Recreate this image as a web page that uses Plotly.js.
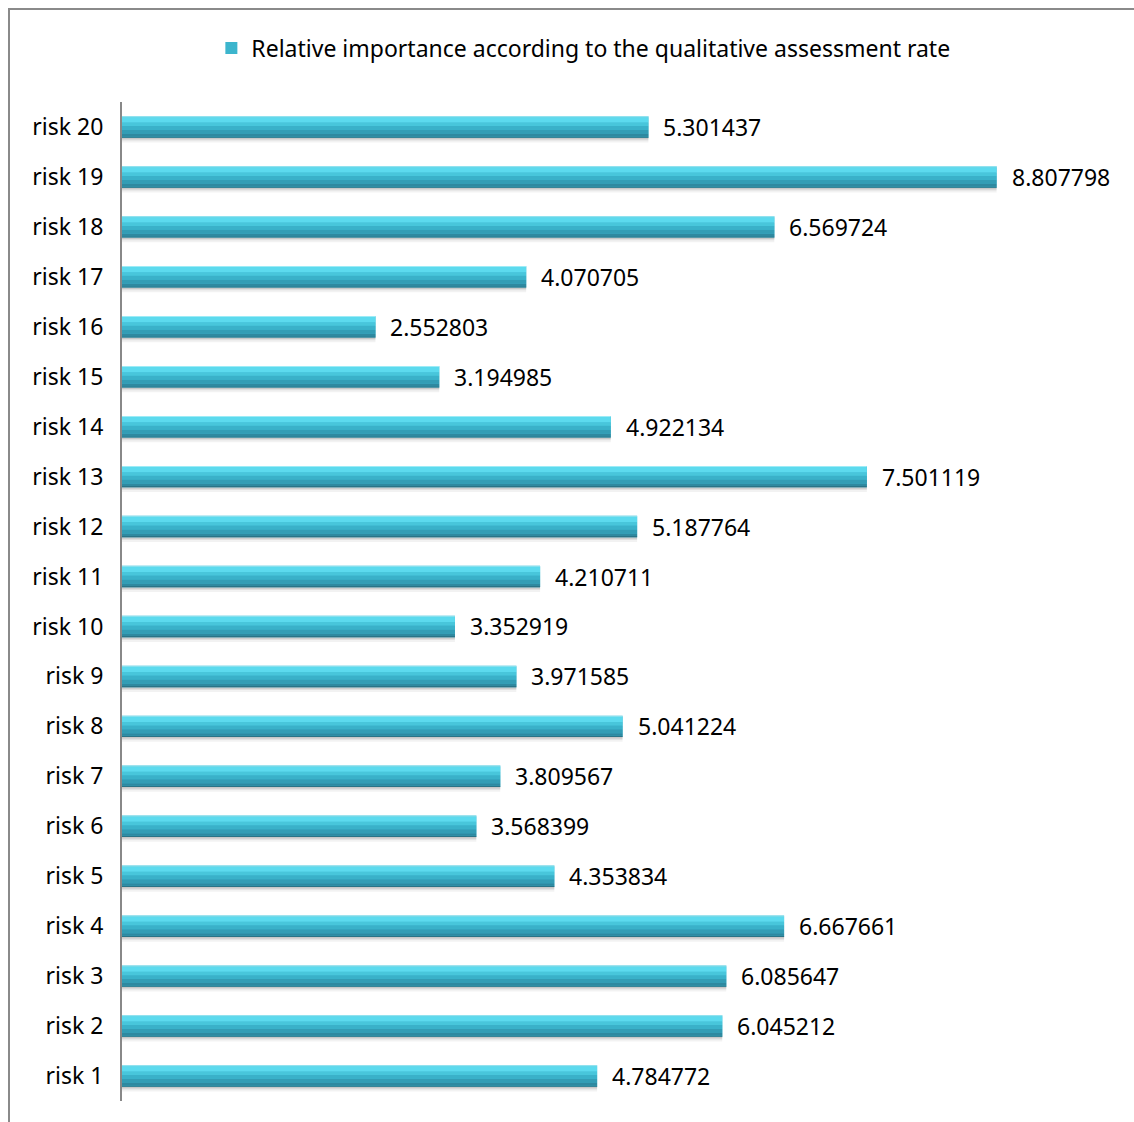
<!DOCTYPE html>
<html>
<head>
<meta charset="utf-8">
<script src="https://cdn.plot.ly/plotly-3.0.1.min.js"></script>
<style>
  html, body { margin: 0; padding: 0; background: #fff; overflow: hidden; }
  #chart { position: absolute; left: 0; top: 0; width: 1134px; height: 1122px; }
  #frame { position: absolute; left: 8px; top: 8px; width: 1160px; height: 1160px;
           border: 2px solid #8a8a8a; pointer-events: none; box-sizing: border-box; }
</style>
</head>
<body>
<div id="chart"></div>
<div id="frame"></div>
<script>
const categories = ["risk 1","risk 2","risk 3","risk 4","risk 5","risk 6","risk 7","risk 8","risk 9","risk 10",
  "risk 11","risk 12","risk 13","risk 14","risk 15","risk 16","risk 17","risk 18","risk 19","risk 20"];
const values = [4.784772, 6.045212, 6.085647, 6.667661, 4.353834, 3.568399, 3.809567, 5.041224, 3.971585, 3.352919,
  4.210711, 5.187764, 7.501119, 4.922134, 3.194985, 2.552803, 4.070705, 6.569724, 8.807798, 5.301437];
const seriesName = "Relative importance according to the qualitative assessment rate";

const FONT = "Noto Sans, Open Sans, sans-serif";

function layer(color, y0, y1, show) {
  return {
    type: "bar", orientation: "h", x: values, y: categories,
    offset: y0, width: y1 - y0,
    marker: { color: color, line: { width: 0 } },
    hoverinfo: "skip", showlegend: !!show, name: seriesName
  };
}

const traces = [
  layer("rgba(0,0,0,0.05)", -0.31, -0.2),
  layer("rgba(0,0,0,0.08)", -0.27, -0.2),
  layer("rgba(0,0,0,0.10)", -0.245, -0.2),
  layer("#3cb5cd", -0.215, 0.215, true),
  layer("#2a7386", -0.215, -0.19),
  layer("#2e89a0", -0.19, -0.14),
  layer("#339db5", -0.14, -0.06),
  layer("#3ab1c9", -0.06, 0.02),
  layer("#48c6db", 0.02, 0.09),
  layer("#5cdaee", 0.09, 0.195),
  layer("#9debf6", 0.195, 0.215)
];

const annotations = values.map((v, i) => ({
  x: v, y: categories[i], xref: "x", yref: "y",
  text: v.toFixed(6), showarrow: false, xanchor: "left", yanchor: "middle",
  xshift: 13, font: { family: FONT, size: 23, color: "#000" }
}));

const layout = {
  width: 1134, height: 1122,
  margin: { l: 122, r: 19, t: 102, b: 21 },
  paper_bgcolor: "#fff", plot_bgcolor: "#fff",
  barmode: "overlay",
  font: { family: FONT, size: 23, color: "#000" },
  xaxis: { range: [0, 10], visible: false, fixedrange: true },
  yaxis: {
    type: "category", categoryorder: "array", categoryarray: categories,
    showline: true, linecolor: "#888888", linewidth: 2,
    ticks: "", showgrid: false, zeroline: false,
    ticklabelstandoff: 12,
    tickfont: { family: FONT, size: 23, color: "#000" }
  },
  showlegend: true,
  legend: {
    orientation: "h", x: 0.09, xanchor: "left", y: 1.054, yanchor: "middle",
    font: { family: FONT, size: 23, color: "#000" },
    itemwidth: 30
  },
  annotations: annotations
};

Plotly.newPlot("chart", traces, layout, { staticPlot: true, displayModeBar: false });
</script>
</body>
</html>
